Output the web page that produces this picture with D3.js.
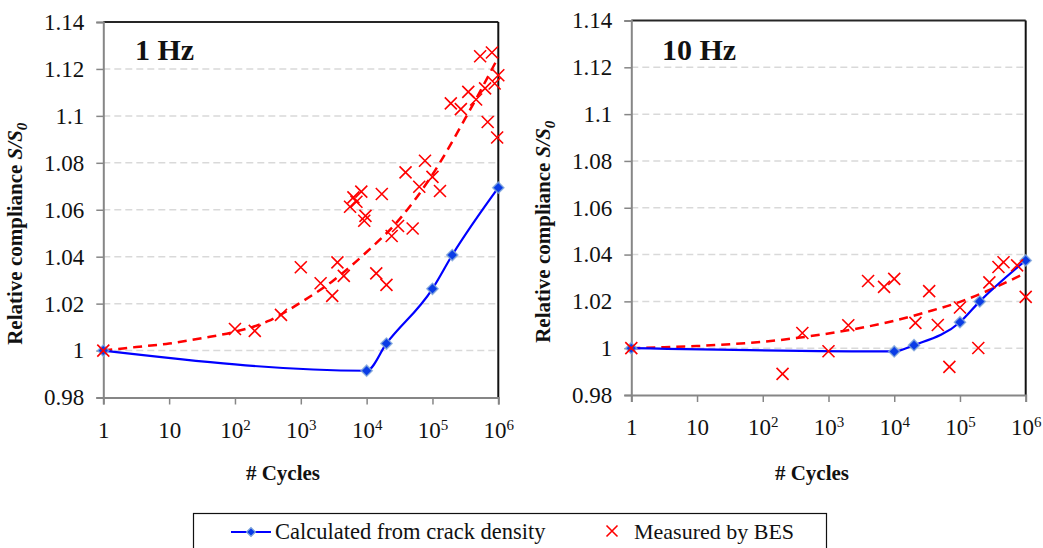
<!DOCTYPE html>
<html><head><meta charset="utf-8">
<script src="https://cdn.jsdelivr.net/npm/d3@7"></script>
<style>
html,body{margin:0;padding:0;background:#fff;}
svg{display:block;font-family:"Liberation Serif","Times New Roman",serif;}
</style></head><body>
<svg id="chart" width="1043" height="548"></svg>
<script>
// ---------- data ----------
const xTickValues = [1, 10, 100, 1000, 10000, 100000, 1000000];
const xTickBase = ["1", "10", "10", "10", "10", "10", "10"];
const xTickExp = ["", "", "2", "3", "4", "5", "6"];
const yTickValues = [0.98, 1.0, 1.02, 1.04, 1.06, 1.08, 1.1, 1.12, 1.14];
const yTickLabels = ["0.98", "1", "1.02", "1.04", "1.06", "1.08", "1.1", "1.12", "1.14"];
const gridValues = [1.0, 1.02, 1.04, 1.06, 1.08, 1.1, 1.12];

const panelTitles = ["1 Hz", "10 Hz"];
const seriesNames = ["Calculated from crack density", "Measured by BES"];

const calcCycles = [1, 10000, 20000, 100000, 200000, 1000000];
const calc1Hz  = [1.0, 0.9914, 1.003, 1.0263, 1.0407, 1.0694];
const calc10Hz = [1.0, 0.9986, 1.0013, 1.0111, 1.020, 1.0375];

const trendCycles = [1, 3.162, 10, 31.62, 100, 316.2, 1000, 3162, 10000, 31623, 100000, 316228, 1000000];
const trend1Hz  = [1.0, 1.0015, 1.003, 1.0053, 1.008, 1.0125, 1.0205, 1.030, 1.042, 1.056, 1.075, 1.099, 1.125];
const trend10Hz = [1.0, 1.0004, 1.0009, 1.0017, 1.0027, 1.0043, 1.0063, 1.0087, 1.0117, 1.0155, 1.0198, 1.0255, 1.0322];

const bes1HzCycles = [1, 100, 200, 500, 1000, 2000, 3000, 3600, 4500, 5600, 6300, 7000, 8300, 9200, 9600,
  14000, 17000, 20000, 24000, 30000, 39000, 50000, 63000, 77000, 100000, 130000,
  190000, 270000, 350000, 460000, 530000, 630000, 690000, 800000, 880000, 960000, 1000000];
const bes1HzValues = [1.0, 1.0092, 1.0084, 1.0152, 1.0355, 1.0287, 1.0233, 1.0376, 1.0318, 1.0613, 1.0653, 1.0634, 1.0677, 1.0553, 1.0574,
  1.0329, 1.0667, 1.028, 1.0488, 1.0531, 1.0759, 1.052, 1.0698, 1.0809, 1.074, 1.068,
  1.1053, 1.1029, 1.1102, 1.107, 1.1254, 1.1117, 1.0974, 1.127, 1.1138, 1.0908, 1.1173];

const bes10HzCycles = [1, 200, 400, 1000, 2000, 4000, 7000, 10000, 21000, 34000, 46000, 69000, 100000,
  190000, 280000, 385000, 460000, 740000, 1000000];
const bes10HzValues = [1.0, 0.989, 1.0065, 0.9987, 1.0098, 1.0287, 1.0262, 1.0296, 1.0108, 1.0244, 1.0099, 0.992, 1.0174,
  1.0001, 1.0281, 1.0347, 1.0367, 1.0354, 1.0219];

// ---------- layout ----------
const panels = [
  {title: panelTitles[0], x0: 103.3, x1: 498.3, yTop: 22, yBot: 397.5, calc: calc1Hz, trend: trend1Hz,
   besN: bes1HzCycles, besV: bes1HzValues, titleX: 135, yTitleX: 22, xTitleX: 283},
  {title: panelTitles[1], x0: 631.3, x1: 1025.7, yTop: 20.5, yBot: 395, calc: calc10Hz, trend: trend10Hz,
   besN: bes10HzCycles, besV: bes10HzValues, titleX: 662, yTitleX: 550, xTitleX: 812}
];

const svg = d3.select("#chart");
const BLUE = "#0000ff", RED = "#ff0000";
const crossPath = r => `M${-r},${-r}L${r},${r}M${-r},${r}L${r},${-r}`;
const diamond = d3.symbol(d3.symbolSquare, 62);

panels.forEach(p => {
  const x = d3.scaleLog().domain([1, 1e6]).range([p.x0, p.x1]);
  const y = d3.scaleLinear().domain([0.98, 1.14]).range([p.yBot, p.yTop]);
  const g = svg.append("g");

  // gridlines
  g.selectAll(".grid").data(gridValues).join("line")
    .attr("x1", p.x0).attr("x2", p.x1)
    .attr("y1", d => y(d)).attr("y2", d => y(d))
    .attr("stroke", "#d9d9d9").attr("stroke-width", 1.5).attr("stroke-dasharray", "7,4");

  // frame: top and right dark
  g.append("line").attr("x1", p.x0).attr("x2", p.x1).attr("y1", p.yTop).attr("y2", p.yTop)
    .attr("stroke", "#262626").attr("stroke-width", 2);
  g.append("line").attr("x1", p.x1).attr("x2", p.x1).attr("y1", p.yTop).attr("y2", p.yBot)
    .attr("stroke", "#111").attr("stroke-width", 2);

  // y axis
  const yAxis = d3.axisLeft(y).tickValues(yTickValues).tickSize(7).tickPadding(12)
    .tickFormat((d, i) => yTickLabels[i]);
  const ya = g.append("g").attr("transform", `translate(${p.x0},0)`).call(yAxis);
  ya.select(".domain").attr("stroke", "#868686").attr("stroke-width", 2);
  ya.selectAll(".tick line").attr("stroke", "#868686").attr("stroke-width", 1.5);
  ya.selectAll(".tick text").attr("font-family", "Liberation Serif").attr("font-size", 23).attr("fill", "#111");

  // x axis
  const xAxis = d3.axisBottom(x).tickValues(xTickValues).tickSize(7).tickFormat(() => "");
  const xa = g.append("g").attr("transform", `translate(0,${p.yBot})`).call(xAxis);
  xa.select(".domain").attr("stroke", "#868686").attr("stroke-width", 2);
  xa.selectAll(".tick line").attr("stroke", "#868686").attr("stroke-width", 1.5);
  xa.selectAll(".tick").each(function(d, i) {
    const t = d3.select(this).append("text").attr("y", 40).attr("fill", "#111")
      .attr("font-family", "Liberation Serif").attr("font-size", 23).attr("text-anchor", "middle");
    t.append("tspan").text(xTickBase[i]);
    if (xTickExp[i]) t.append("tspan").attr("font-size", 15).attr("dy", -8).text(xTickExp[i]);
  });

  // trend (dashed)
  const trendLine = d3.line().x((d, i) => x(trendCycles[i])).y(d => y(d)).curve(d3.curveMonotoneX);
  g.append("path").datum(p.trend).attr("d", trendLine).attr("fill", "none")
    .attr("stroke", RED).attr("stroke-width", 2.5).attr("stroke-dasharray", "9,6");

  // calculated line
  const calcLine = d3.line().x((d, i) => x(calcCycles[i])).y(d => y(d)).curve(d3.curveMonotoneX);
  g.append("path").datum(p.calc).attr("d", calcLine).attr("fill", "none")
    .attr("stroke", BLUE).attr("stroke-width", 2.2);
  g.selectAll(".dia").data(p.calc).join("path")
    .attr("transform", (d, i) => `translate(${x(calcCycles[i])},${y(d)}) rotate(45)`)
    .attr("d", diamond).attr("fill", "#0a3ce6").attr("stroke", "#7fa6d9").attr("stroke-width", 1.5)
    .attr("stroke-opacity", 0.8);

  // measured crosses
  g.selectAll(".x").data(p.besV).join("path")
    .attr("transform", (d, i) => `translate(${x(p.besN[i])},${y(d)})`)
    .attr("d", crossPath(6)).attr("fill", "none").attr("stroke", RED).attr("stroke-width", 1.6);

  // panel title
  g.append("text").attr("x", p.titleX).attr("y", 60).attr("font-size", 30).attr("font-weight", "bold")
    .attr("fill", "#111").text(p.title);

  // x title
  g.append("text").attr("x", p.xTitleX).attr("y", 480).attr("text-anchor", "middle")
    .attr("font-size", 21).attr("font-weight", "bold").attr("fill", "#111").text("# Cycles");

  // y title
  const yt = g.append("text").attr("transform", `translate(${p.yTitleX},${(p.yTop + p.yBot) / 2 + 24}) rotate(-90)`)
    .attr("text-anchor", "middle").attr("font-size", 21).attr("font-weight", "bold").attr("fill", "#111");
  yt.append("tspan").text("Relative compliance ");
  yt.append("tspan").attr("font-style", "italic").text("S/S");
  yt.append("tspan").attr("font-style", "italic").attr("font-size", 15).attr("dy", 5).text("0");
});

// legend
const lg = svg.append("g");
lg.append("rect").attr("x", 193.5).attr("y", 513.5).attr("width", 633).attr("height", 50)
  .attr("fill", "#fff").attr("stroke", "#111").attr("stroke-width", 1.2);
lg.append("line").attr("x1", 231).attr("x2", 271).attr("y1", 532).attr("y2", 532)
  .attr("stroke", BLUE).attr("stroke-width", 2.2);
lg.append("path").attr("transform", "translate(251,532) rotate(45)").attr("d", d3.symbol(d3.symbolSquare, 40))
  .attr("fill", "#0a3ce6").attr("stroke", "#7fa6d9").attr("stroke-width", 1.2);
lg.append("text").attr("x", 275).attr("y", 539).attr("font-size", 22.5).attr("fill", "#111").text(seriesNames[0]);
lg.append("path").attr("transform", "translate(612,531)").attr("d", crossPath(5.5)).attr("fill", "none")
  .attr("stroke", RED).attr("stroke-width", 1.6);
lg.append("text").attr("x", 634).attr("y", 539).attr("font-size", 22).attr("fill", "#111").text(seriesNames[1]);
</script>
</body></html>
